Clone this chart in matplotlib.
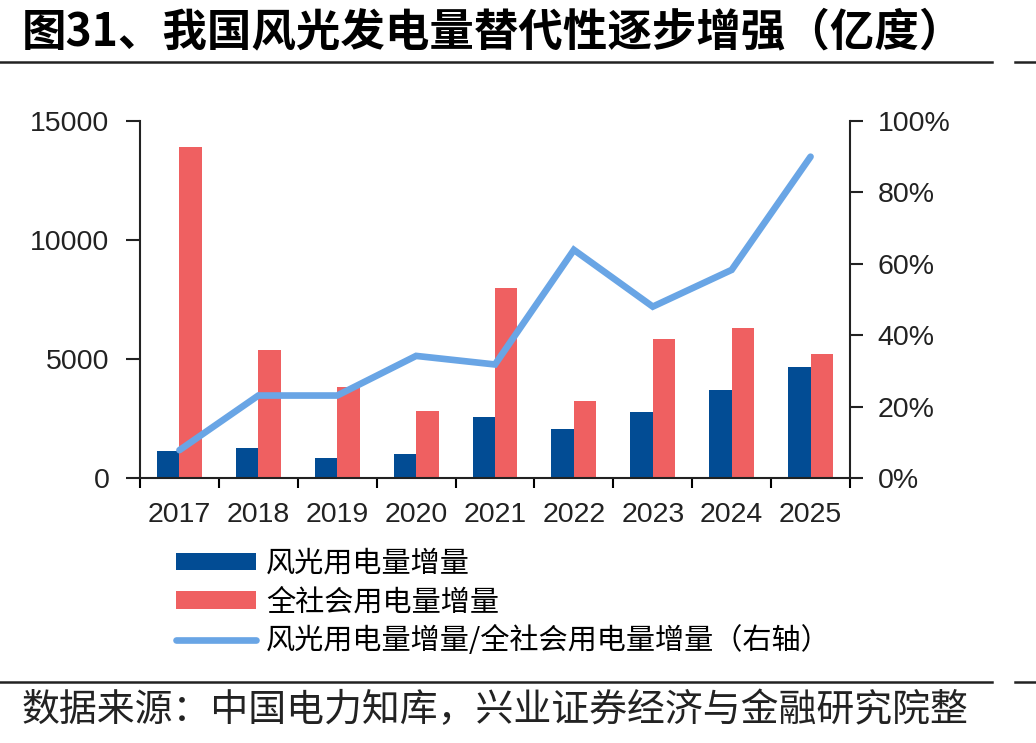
import matplotlib.pyplot as plt
import matplotlib.lines as mlines
import numpy as np

plt.rcParams['font.family'] = ['Liberation Sans', 'Noto Sans CJK SC', 'DejaVu Sans']

years = ['2017', '2018', '2019', '2020', '2021', '2022', '2023', '2024', '2025']
wind_solar = [1130, 1250, 850, 1000, 2550, 2050, 2760, 3690, 4660]       # 风光用电量增量
total = [13900, 5370, 3810, 2815, 8000, 3220, 5840, 6290, 5200]          # 全社会用电量增量
ratio = [7.8, 23.1, 23.1, 34.2, 31.8, 63.9, 48.0, 58.3, 90.0]            # 右轴, %

blue = '#024C94'
red = '#EF6061'
light = '#69A5E5'

fig = plt.figure(figsize=(10.36, 7.43), dpi=100)
ax = fig.add_axes([140/1036, 1-478/743, 710/1036, 357/743])
ax2 = ax.twinx()

x = np.arange(len(years))
w = 0.285
ax.bar(x - w/2, wind_solar, width=w, color=blue, label='风光用电量增量', zorder=2)
ax.bar(x + w/2, total, width=w, color=red, label='全社会用电量增量', zorder=2)
ax2.plot(x, ratio, color=light, lw=4.8, solid_capstyle='round', solid_joinstyle='miter')

ax.set_xlim(-0.5, 8.5)
ax.set_ylim(0, 15000)
ax.set_yticks([0, 5000, 10000, 15000])
ax2.set_ylim(0, 100)
ax2.set_yticks([0, 20, 40, 60, 80, 100])
ax2.set_yticklabels([f'{v}%' for v in [0, 20, 40, 60, 80, 100]])

ax.set_xticks(x)
ax.set_xticklabels(years)
ax.set_xticks(np.arange(-0.5, 9, 1), minor=True)
ax.tick_params(axis='x', which='major', length=0, pad=17, labelsize=20.5, colors='#222222')
ax.tick_params(axis='x', which='minor', length=7, width=1.5, direction='out')
ax.tick_params(axis='y', length=10, width=1.5, pad=12, labelsize=20.5, colors='#222222')
ax2.tick_params(axis='y', length=9, width=1.5, pad=11, labelsize=20.5, colors='#222222')

for a in (ax, ax2):
    a.spines['top'].set_visible(False)
    for s in ('left', 'right', 'bottom'):
        a.spines[s].set_linewidth(1.5)
        a.spines[s].set_color('#222222')
ax.spines['right'].set_visible(False)
ax2.spines['left'].set_visible(False)
ax2.spines['bottom'].set_visible(False)

# legend
h1, l1 = ax.get_legend_handles_labels()
h3 = mlines.Line2D([], [], color=light, lw=4.8, solid_capstyle='round')
fig.legend(h1 + [h3], l1 + ['风光用电量增量/全社会用电量增量（右轴）'],
           loc='upper left', bbox_to_anchor=(164/1036, 1-537/743), frameon=False,
           prop={'family': ['Noto Sans CJK SC'], 'size': 21},
           handlelength=2.75, handleheight=0.55, labelspacing=0.3, handletextpad=0.35,
           borderaxespad=0)

# title and source
fig.text(22/1036, 1-32/743, '图31、我国风光发电量替代性逐步增强（亿度）', fontsize=32,
         fontweight='bold', family=['Noto Sans CJK SC'], va='center', ha='left')
fig.add_artist(mlines.Line2D([0, 992/1036], [1-62/743]*2, color='#222222', lw=1.8))
fig.add_artist(mlines.Line2D([1015/1036, 1], [1-62/743]*2, color='#222222', lw=1.8))
fig.add_artist(mlines.Line2D([0, 992/1036], [1-682/743]*2, color='#222222', lw=1.8))
fig.add_artist(mlines.Line2D([1015/1036, 1], [1-682/743]*2, color='#222222', lw=1.8))
fig.text(22/1036, 1-711/743, '数据来源：中国电力知库，兴业证券经济与金融研究院整', fontsize=27.3,
         family=['Noto Sans CJK SC'], va='center', ha='left', color='#222222')

fig.savefig('out.png', dpi=100)
